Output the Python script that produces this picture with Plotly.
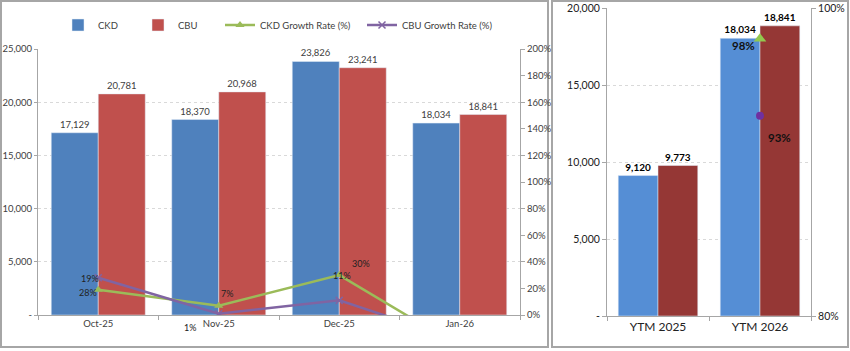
import plotly.graph_objects as go

W, H = 850, 351

# ---------------- data ----------------
months = ["Oct-25", "Nov-25", "Dec-25", "Jan-26"]
ckd_units = [17129, 18370, 23826, 18034]
cbu_units = [20781, 20968, 23241, 18841]
ckd_growth = [0.19, 0.07, 0.30, -0.24]
cbu_growth = [0.28, 0.01, 0.11, -0.19]
ckd_growth_labels = ["28%", "7%", "30%", ""]
cbu_growth_labels = ["19%", "1%", "11%", ""]

ytm_cats = ["YTM 2025", "YTM 2026"]
ytm_ckd = [9120, 18034]
ytm_cbu = [9773, 18841]
ytm_ckd_growth = [None, 0.98]
ytm_cbu_growth = [None, 0.93]

left_ticks = [0, 5000, 10000, 15000, 20000, 25000]
left_ticktext = ["-", "5,000", "10,000", "15,000", "20,000", "25,000"]
right_ticks = [0, 5000, 10000, 15000, 20000]
right_ticktext = ["-", "5,000", "10,000", "15,000", "20,000"]

FONT = "Lato, Open Sans, sans-serif"
C_CKD, C_CBU = "#4F81BD", "#C0504D"
C_CKD2, C_CBU2 = "#558ED5", "#953735"
C_GRN, C_PUR = "#9BBB59", "#8064A2"


def px(x):
    return x / W


def py(y):
    return (H - y) / H


fig = go.Figure()

# ---------------- left panel ----------------
fig.add_trace(go.Bar(x=months, y=ckd_units, name="CKD", marker_color=C_CKD,
                     xaxis="x", yaxis="y", offsetgroup="a",
                     text=[f"{v:,}" for v in ckd_units], textposition="outside",
                     textfont=dict(size=9.5, color="#404040"), cliponaxis=False,
                     legend="legend"))
fig.add_trace(go.Bar(x=months, y=cbu_units, name="CBU", marker_color=C_CBU,
                     xaxis="x", yaxis="y", offsetgroup="b",
                     text=[f"{v:,}" for v in cbu_units], textposition="outside",
                     textfont=dict(size=9.5, color="#404040"), cliponaxis=False,
                     legend="legend2"))
fig.add_trace(go.Scatter(x=months, y=ckd_growth, name="CKD Growth Rate (%)",
                         mode="lines+markers", line=dict(color=C_GRN, width=2.5),
                         marker=dict(symbol="triangle-up", size=8, color=C_GRN),
                         xaxis="x", yaxis="y2", legend="legend3"))
fig.add_trace(go.Scatter(x=months, y=cbu_growth, name="CBU Growth Rate (%)",
                         mode="lines+markers", line=dict(color=C_PUR, width=2.5),
                         marker=dict(symbol="x-thin", size=7,
                                     line=dict(color=C_PUR, width=1.5)),
                         xaxis="x", yaxis="y2", legend="legend4"))

# growth labels placed relative to their points
ckd_shift = [(-10, -3), (8, 12), (22, 12), (0, 0)]
cbu_shift = [(-8, -1), (-29, -14), (3, 25), (0, 0)]
for i, m in enumerate(months):
    if ckd_growth_labels[i]:
        fig.add_annotation(x=m, y=ckd_growth[i], xref="x", yref="y2",
                           text=ckd_growth_labels[i], showarrow=False,
                           xshift=ckd_shift[i][0], yshift=ckd_shift[i][1],
                           font=dict(size=9, color="#222", family=FONT))
    if cbu_growth_labels[i]:
        fig.add_annotation(x=m, y=cbu_growth[i], xref="x", yref="y2",
                           text=cbu_growth_labels[i], showarrow=False,
                           xshift=cbu_shift[i][0], yshift=cbu_shift[i][1],
                           font=dict(size=9, color="#222", family=FONT))

# ---------------- right panel ----------------
fig.add_trace(go.Bar(x=ytm_cats, y=ytm_ckd, name="CKD", marker_color=C_CKD2,
                     xaxis="x3", yaxis="y3", offsetgroup="c", showlegend=False,
                     text=[f"{v:,}" for v in ytm_ckd], textposition="outside",
                     textfont=dict(size=10, color="#000"), cliponaxis=False,
                     texttemplate="<b>%{text}</b>"))
fig.add_trace(go.Bar(x=ytm_cats, y=ytm_cbu, name="CBU", marker_color=C_CBU2,
                     xaxis="x3", yaxis="y3", offsetgroup="d", showlegend=False,
                     text=[f"{v:,}" for v in ytm_cbu], textposition="outside",
                     textfont=dict(size=10, color="#000"), cliponaxis=False,
                     texttemplate="<b>%{text}</b>"))
fig.add_trace(go.Scatter(x=ytm_cats, y=ytm_ckd_growth, mode="markers", showlegend=False,
                         marker=dict(symbol="triangle-up", size=11, color="#92C84E"),
                         xaxis="x3", yaxis="y4", cliponaxis=False))
fig.add_trace(go.Scatter(x=ytm_cats, y=ytm_cbu_growth, mode="markers", showlegend=False,
                         marker=dict(symbol="circle", size=8, color="#7030A0"),
                         xaxis="x3", yaxis="y4", cliponaxis=False))
fig.add_annotation(x=ytm_cats[1], y=ytm_ckd_growth[1], xref="x3", yref="y4",
                   text="<b>98%</b>", showarrow=False, xshift=-17, yshift=-7,
                   font=dict(size=11.5, color="#111", family=FONT))
fig.add_annotation(x=ytm_cats[1], y=ytm_cbu_growth[1], xref="x3", yref="y4",
                   text="<b>93%</b>", showarrow=False, xshift=19, yshift=-22,
                   font=dict(size=11.5, color="#111", family=FONT))

# ---------------- panel borders ----------------
for x0, x1 in [(1, 548), (552, 848)]:
    fig.add_shape(type="rect", xref="paper", yref="paper",
                  x0=px(x0), x1=px(x1), y0=py(347), y1=py(1),
                  line=dict(color="#A6A6A6", width=2), layer="below")

axis_common = dict(showline=True, linecolor="#A6A6A6", linewidth=1, automargin=False,
                   tickfont=dict(size=9.5, color="#404040", family=FONT))
grid = dict(showgrid=True, gridcolor="#D9D9D9", griddash="dot", gridwidth=1)

legend_common = dict(orientation="h", yanchor="middle", y=py(25), xanchor="left",
                     bgcolor="rgba(0,0,0,0)", itemwidth=30,
                     font=dict(size=9.5, color="#404040", family=FONT))

fig.update_layout(
    width=W, height=H, margin=dict(l=0, r=0, t=0, b=0, autoexpand=False),
    paper_bgcolor="white", plot_bgcolor="white",
    font=dict(family=FONT),
    barmode="group", bargap=0.22, bargroupgap=0,
    xaxis=dict(domain=[px(38), px(520)], anchor="y", ticks="outside", ticklen=4,
               tickcolor="#A6A6A6", tickson="boundaries", **axis_common),
    yaxis=dict(domain=[py(315), py(49)], anchor="x", range=[0, 25000],
               tickvals=left_ticks, ticktext=left_ticktext, ticks="outside",
               ticklen=3, tickcolor="#A6A6A6", zeroline=False, **grid, **axis_common),
    yaxis2=dict(overlaying="y", anchor="x", side="right", range=[0, 2.0],
                dtick=0.2, tickformat=".0%", ticks="outside", ticklen=4,
                tickcolor="#A6A6A6", showgrid=False, zeroline=False, **axis_common),
    xaxis3=dict(domain=[px(607), px(811)], anchor="y3", ticks="outside", ticklen=4,
                tickcolor="#A6A6A6", tickson="boundaries", showline=True,
                linecolor="#A6A6A6", automargin=False,
                tickfont=dict(size=12, color="#222", family=FONT)),
    yaxis3=dict(domain=[py(316), py(8)], anchor="x3", range=[0, 20000],
                tickvals=right_ticks, ticktext=right_ticktext, ticks="outside",
                ticklen=4, tickcolor="#A6A6A6", zeroline=False, showline=True,
                linecolor="#A6A6A6", automargin=False, **grid,
                tickfont=dict(size=10.5, color="#222", family=FONT)),
    yaxis4=dict(overlaying="y3", anchor="x3", side="right", range=[0.8, 1.0],
                dtick=0.2, tickformat=".0%", ticks="outside", ticklen=4,
                tickcolor="#A6A6A6", showgrid=False, zeroline=False, showline=True,
                linecolor="#A6A6A6", automargin=False,
                tickfont=dict(size=10.5, color="#222", family=FONT)),
    legend=dict(x=px(58), **legend_common),
    legend2=dict(x=px(138), **legend_common),
    legend3=dict(x=px(220), **legend_common),
    legend4=dict(x=px(362), **legend_common),
)

fig.write_html("out.html")
